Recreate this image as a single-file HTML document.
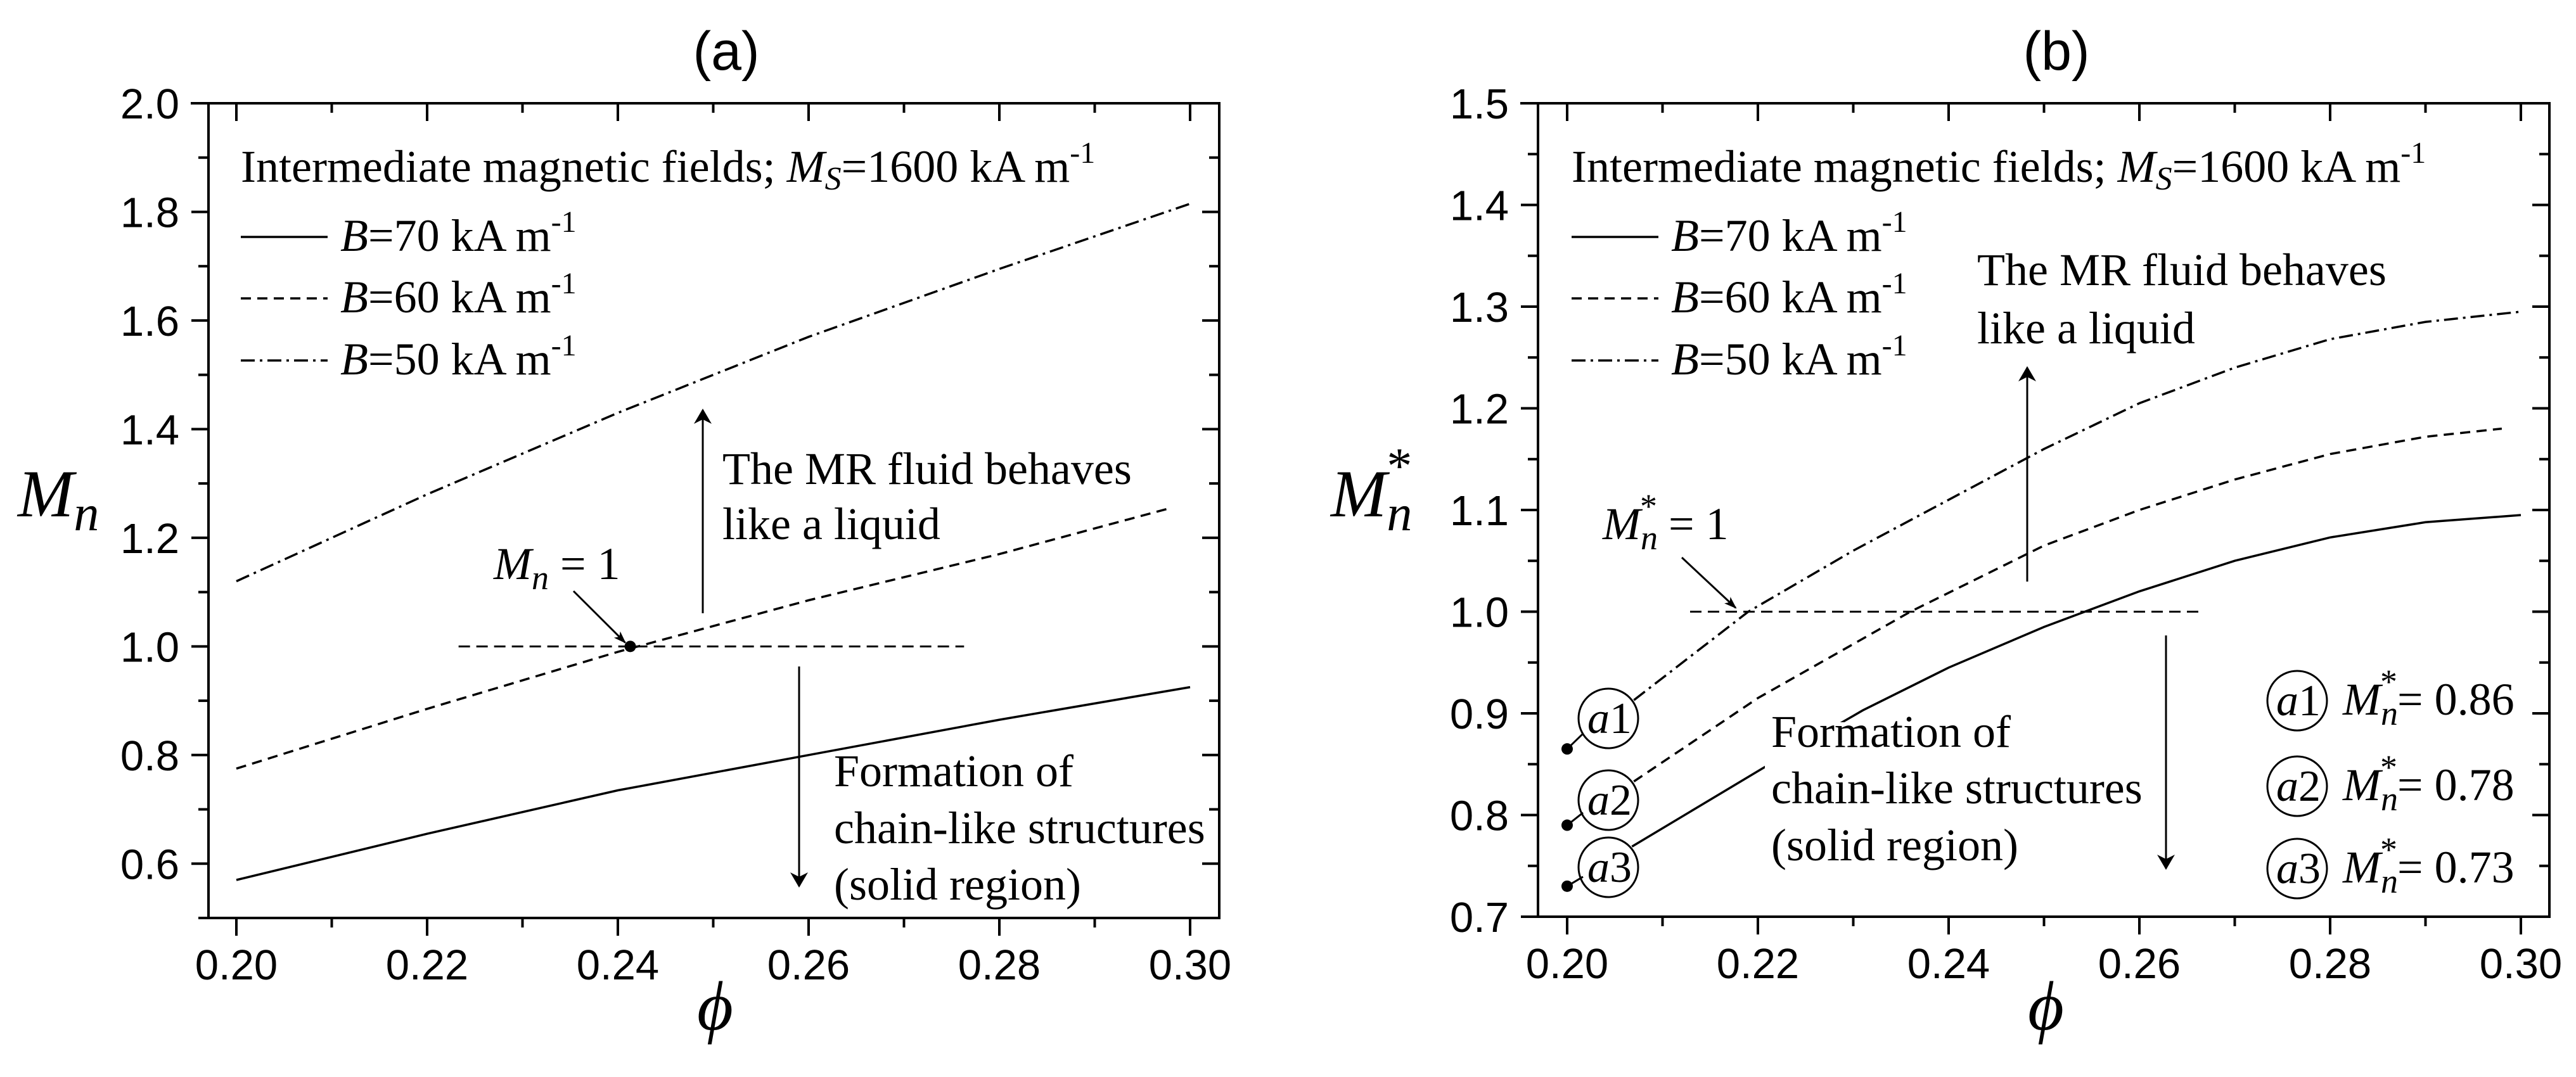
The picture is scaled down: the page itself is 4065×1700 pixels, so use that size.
<!DOCTYPE html>
<html><head><meta charset="utf-8">
<style>
html,body{margin:0;padding:0;background:#fff;}
svg{display:block;}
.tk{font-family:"Liberation Sans",Arial,sans-serif;font-size:67px;fill:#000;}
.tm{font-family:"Liberation Serif","Times New Roman",serif;font-size:72px;fill:#000;}
.tt{font-family:"Liberation Sans",Arial,sans-serif;font-size:86px;fill:#000;}
</style></head>
<body>
<svg id="fig" width="4065" height="1700" viewBox="0 0 4065 1700" xmlns="http://www.w3.org/2000/svg">
<defs>
<marker id="ah" viewBox="0 0 20 20" refX="18" refY="10" markerWidth="20" markerHeight="20" markerUnits="userSpaceOnUse" orient="auto">
<path d="M0,3 L20,10 L0,17 L5,10 Z" fill="#000"/></marker>
<marker id="ahb" viewBox="0 0 24 36" refX="22" refY="18" markerWidth="24" markerHeight="36" markerUnits="userSpaceOnUse" orient="auto">
<path d="M0,4 L24,18 L0,32 L7,18 Z" fill="#000"/></marker>
</defs>
<g id="pa"></g>
<g id="pb"></g>
</svg>
<script>
// ---- data ----
const xTicksA = [0.20,0.22,0.24,0.26,0.28,0.30];
const yTicksA = [0.6,0.8,1.0,1.2,1.4,1.6,1.8,2.0];
const xTicksB = [0.20,0.22,0.24,0.26,0.28,0.30];
const yTicksB = [0.7,0.8,0.9,1.0,1.1,1.2,1.3,1.4,1.5];

const phiA = [0.20,0.22,0.24,0.26,0.28,0.30];
const solidA = [0.57,0.655,0.735,0.80,0.865,0.925];
const phiDashA = [0.20,0.22,0.24,0.26,0.28,0.298];
const dashA = [0.775,0.885,0.99,1.085,1.17,1.255];
const dashDotA = [1.12,1.28,1.43,1.57,1.695,1.815];

const phiSolidB = [0.2068,0.2205,0.231,0.24,0.25,0.26,0.27,0.28,0.29,0.30];
const solidB = [0.769,0.846,0.903,0.945,0.985,1.02,1.05,1.073,1.088,1.095];
const phiDashB = [0.207,0.22,0.236,0.25,0.26,0.27,0.28,0.29,0.298];
const dashB = [0.833,0.915,1.0,1.065,1.10,1.13,1.155,1.172,1.18];
const phiDDB = [0.207,0.219,0.23,0.24,0.25,0.26,0.27,0.28,0.29,0.30];
const dashDotB = [0.913,1.0,1.06,1.11,1.16,1.205,1.24,1.268,1.285,1.295];
const startVals = [0.865,0.79,0.73];
const startLabels = ["0.86","0.78","0.73"];

const NS = "http://www.w3.org/2000/svg";
function el(tag, attrs, parent){const e=document.createElementNS(NS,tag);for(const k in attrs)e.setAttribute(k,attrs[k]);if(parent)parent.appendChild(e);return e;}

function axes(g, fr, xmin, xmax, ymin, ymax, xs, ys, xTicks, yTicks, yMinorStep){
  const X = v => xs.x0 + (v - xmin)/(xmax - xmin)*(xs.x1 - xs.x0);
  const Y = v => fr.b - (v - ymin)/(ymax - ymin)*(fr.b - fr.t);
  const frame = el('rect',{x:fr.l,y:fr.t,width:fr.r-fr.l,height:fr.b-fr.t,fill:'none',stroke:'#000','stroke-width':4},g);
  
  
  el('line',{x1:fr.l-16,y1:fr.b,x2:fr.l,y2:fr.b,stroke:'#000','stroke-width':4},g);
  el('line',{x1:fr.l-28,y1:fr.t,x2:fr.l,y2:fr.t,stroke:'#000','stroke-width':4},g);
  for(let i=0;i<=10;i++){
    const v = xmin + 0.01*i; const x = X(v); const major = (i%2===0);
    const L = major?28:15;
    el('line',{x1:x,y1:fr.b,x2:x,y2:fr.b+L,stroke:'#000','stroke-width':4},g);
    el('line',{x1:x,y1:fr.t,x2:x,y2:fr.t+L,stroke:'#000','stroke-width':4},g);
  }
  xTicks.forEach(v=>{
    const t = el('text',{x:X(v),y:fr.b+97,'text-anchor':'middle',class:'tk'},g);
    t.textContent = v.toFixed(2);
    
    
  });
  const n = Math.round((ymax-ymin)/yMinorStep);
  for(let i=0;i<=n;i++){
    const v = ymin + yMinorStep*i; const y = Y(v);
    const major = yTicks.some(t=>Math.abs(t-v)<1e-6);
    const L = major?27:16;
    el('line',{x1:fr.l-L,y1:y,x2:fr.l,y2:y,stroke:'#000','stroke-width':4},g);
    el('line',{x1:fr.r-L,y1:y,x2:fr.r,y2:y,stroke:'#000','stroke-width':4},g);
  }
  yTicks.forEach(v=>{
    const t = el('text',{x:fr.l-46,y:Y(v)+24,'text-anchor':'end',class:'tk'},g);
    t.textContent = v.toFixed(1);
    
    
  });
  return {X,Y};
}
function curve(g, X, Y, xsArr, ysArr, dash, name){
  const d = xsArr.map((v,i)=>(i?'L':'M')+X(v).toFixed(1)+','+Y(ysArr[i]).toFixed(1)).join(' ');
  const p = el('path',{d:d,fill:'none',stroke:'#000','stroke-width':3.5},g);
  if(dash) p.setAttribute('stroke-dasharray',dash);
  
  
  return p;
}
function tm(g, x, y, html, name, size){
  const t = el('text',{x:x,y:y,class:'tm'},g);
  if(size) t.style.fontSize = size+'px';
  t.innerHTML = html;
  
  
  return t;
}
const DASH = '16,10';
const DDOT = '22,8,4,8';
function legend(g, x0){
  tm(g, x0, 287, 'Intermediate magnetic fields; <tspan font-style="italic">M</tspan><tspan font-style="italic" font-size="52" dy="12">S</tspan><tspan dy="-12">=1600 kA m</tspan><tspan font-size="48" dy="-30">-1</tspan>', 'legend-title');
  const labs = ['70','60','50']; const ds = [null, DASH, DDOT]; const yy=[396,493,591];
  labs.forEach((b,i)=>{
    const l = el('line',{x1:x0,y1:yy[i]-22,x2:x0+137,y2:yy[i]-22,stroke:'#000','stroke-width':3.5},g);
    if(ds[i]) l.setAttribute('stroke-dasharray',ds[i]);
    
    
    tm(g, x0+157, yy[i], '<tspan font-style="italic">B</tspan>='+b+' kA m<tspan font-size="48" dy="-30">-1</tspan>', 'legend-entry-b'+b);
  });
}
function arrow(g, x1,y1,x2,y2, big, name){
  const a = el('line',{x1:x1,y1:y1,x2:x2,y2:y2,stroke:'#000','stroke-width':3,'marker-end':big?'url(#ahb)':'url(#ah)'},g);
  
  
}

// ---- Panel A ----
(function(){
  const g = document.getElementById('pa');
  const fr = {l:329,r:1924,t:163,b:1449};
  const {X,Y} = axes(g, fr, 0.20, 0.30, 0.5, 2.0, {x0:373,x1:1878}, null, xTicksA, yTicksA, 0.1);
  curve(g,X,Y,phiA,solidA,null,'curve-b70');
  curve(g,X,Y,phiDashA,dashA,DASH,'curve-b60');
  curve(g,X,Y,phiA,dashDotA,DDOT,'curve-b50');
  const h = el('line',{x1:X(0.2233),y1:Y(1.0),x2:X(0.2763),y2:Y(1.0),stroke:'#000','stroke-width':3,'stroke-dasharray':'18,10'},g);
  
  
  const dot = el('circle',{cx:X(0.2413),cy:Y(1.0),r:9,fill:'#000'},g);
  
  
  arrow(g,905,933,X(0.2413)-8,Y(1.0)-6,false,'mn-1-pointer');
  tm(g,779,914,'<tspan font-style="italic">M</tspan><tspan font-style="italic" font-size="54" dy="16">n</tspan><tspan dy="-16"> = 1</tspan>','mn-1-label');
  arrow(g,1109,968,1109,647,true,'liquid-arrow');
  arrow(g,1261,1052,1261,1399,true,'solid-arrow');
  tm(g,1140,764,'The MR fluid behaves','liquid-text-1');
  tm(g,1140,851,'like a liquid','liquid-text-2');
  tm(g,1316,1241,'Formation of','solid-text-1');
  tm(g,1316,1331,'chain-like structures','solid-text-2');
  tm(g,1316,1420,'(solid region)','solid-text-3');
  legend(g,380);
  const t = el('text',{x:1146,y:110,'text-anchor':'middle',class:'tt'},g);
  t.textContent='(a)';
  
  
  tm(g,28,815,'<tspan font-style="italic">M</tspan><tspan font-style="italic" font-size="80" dy="22">n</tspan>','y-axis-title-a','106');
  tm(g,1100,1625,'<tspan font-style="italic">ϕ</tspan>','x-axis-title-a','110');
})();

// ---- Panel B ----
(function(){
  const g = document.getElementById('pb');
  const fr = {l:2427,r:4023,t:163,b:1447};
  const {X,Y} = axes(g, fr, 0.20, 0.30, 0.7, 1.5, {x0:2473,x1:3978}, null, xTicksB, yTicksB, 0.05);
  curve(g,X,Y,phiSolidB,solidB,null,'curve-b70');
  curve(g,X,Y,phiDashB,dashB,DASH,'curve-b60');
  curve(g,X,Y,phiDDB,dashDotB,DDOT,'curve-b50');
  el('rect',{x:2785,y:1140,width:610,height:275,fill:'#fff'},g);
  const h = el('line',{x1:2667,y1:Y(1.0),x2:3472,y2:Y(1.0),stroke:'#000','stroke-width':3,'stroke-dasharray':'18,10'},g);
  
  
  arrow(g,2654,880,2739,Y(1.0)-6,false,'mn-star-1-pointer');
  tm(g,2529,851,'<tspan font-style="italic">M</tspan><tspan font-style="italic" font-size="54" dy="16">n</tspan><tspan font-size="54" dx="-28" dy="-50">*</tspan><tspan dy="34"> = 1</tspan>','mn-star-1-label');
  arrow(g,3199,918,3199,580,true,'liquid-arrow');
  arrow(g,3418,1003,3418,1371,true,'solid-arrow');
  tm(g,3120,450,'The MR fluid behaves','liquid-text-1');
  tm(g,3120,542,'like a liquid','liquid-text-2');
  tm(g,2795,1179,'Formation of','solid-text-1');
  tm(g,2795,1268,'chain-like structures','solid-text-2');
  tm(g,2795,1358,'(solid region)','solid-text-3');
  legend(g,2480);
  const cy = [1134,1263,1369];
  const ly = [1106,1241,1371];
  startVals.forEach((v,i)=>{
    const d = el('circle',{cx:X(0.20),cy:Y(v),r:9,fill:'#000'},g);
    
    
    el('line',{x1:X(0.20),y1:Y(v),x2:2538-40,y2:cy[i]+(Y(v)-cy[i])*0.5,stroke:'#000','stroke-width':3},g);
    const c = el('circle',{cx:2538,cy:cy[i],r:47,fill:'none',stroke:'#000','stroke-width':3},g);
    
    
    tm(g,2505,cy[i]+23,'<tspan font-style="italic">a</tspan>'+(i+1),'marker-label-a'+(i+1),'70');
    const c2 = el('circle',{cx:3625,cy:ly[i],r:47,fill:'none',stroke:'#000','stroke-width':3},g);
    
    
    tm(g,3592,ly[i]+23,'<tspan font-style="italic">a</tspan>'+(i+1),'key-label-a'+(i+1),'70');
    tm(g,3697,ly[i]+22,'<tspan font-style="italic">M</tspan><tspan font-style="italic" font-size="54" dy="16">n</tspan><tspan font-size="54" dx="-28" dy="-50">*</tspan><tspan dy="34">= '+startLabels[i]+'</tspan>','key-value-a'+(i+1));
  });
  const t = el('text',{x:3245,y:110,'text-anchor':'middle',class:'tt'},g);
  t.textContent='(b)';
  
  
  tm(g,2100,815,'<tspan font-style="italic">M</tspan><tspan font-style="italic" font-size="80" dy="22">n</tspan><tspan font-size="80" dx="-40" dy="-75">*</tspan>','y-axis-title-b','106');
  tm(g,3200,1625,'<tspan font-style="italic">ϕ</tspan>','x-axis-title-b','110');
})();
</script>
</body></html>
